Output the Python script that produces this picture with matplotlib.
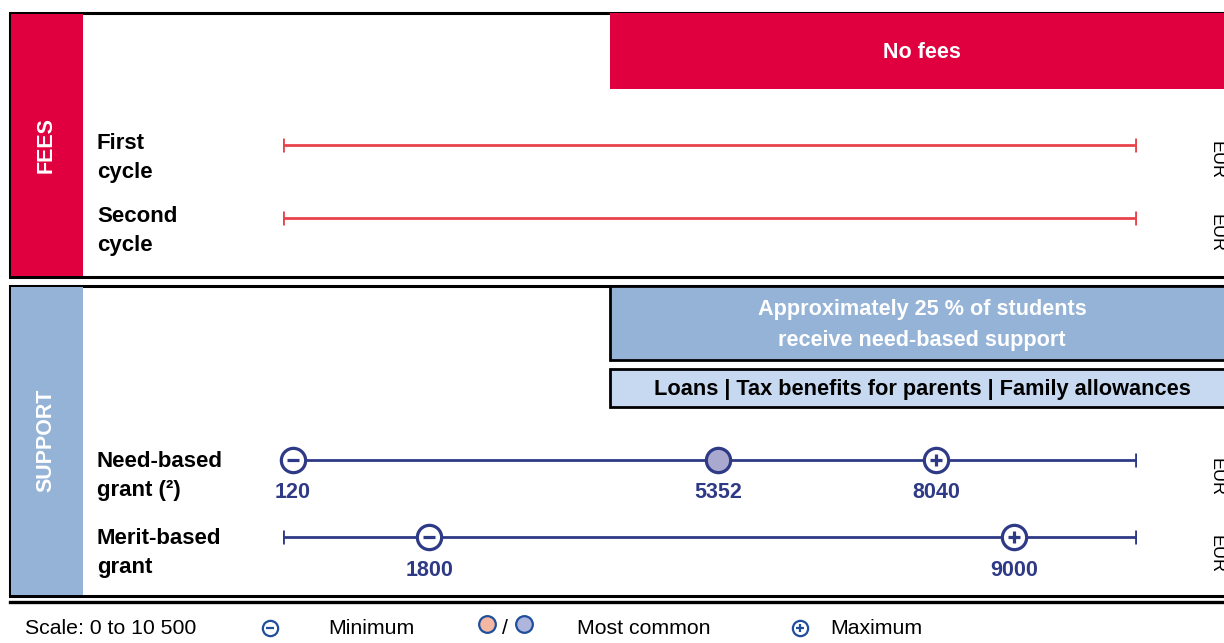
import matplotlib
matplotlib.use("Agg")
import matplotlib.pyplot as plt
from matplotlib.patches import Rectangle

# ---- data ----
scale_max = 10500
fee_labels = ["First\ncycle", "Second\ncycle"]
grant_labels = ["Need-based\ngrant (²)", "Merit-based\ngrant"]
grant_min = [120, 1800]
grant_common = [5352, None]
grant_max = [8040, 9000]
fee_note = "No fees"
support_note = "Approximately 25 % of students\nreceive need-based support"
other_support = "Loans | Tax benefits for parents | Family allowances"
legend_items = ["Minimum", "Most common", "Maximum"]

# ---- style ----
RED = "#E1003F"
FEE_LINE = "#E8434C"
BLUE = "#95B3D7"
LBLUE = "#C6D9F1"
NAVY = "#2F3A87"
LAV = "#A9A9D0"
FONT = "Liberation Sans"
W, H = 1224, 643

fig = plt.figure(figsize=(W / 100, H / 100), dpi=100)
lay = fig.add_axes([0, 0, 1, 1])
lay.set_xlim(0, W)
lay.set_ylim(H, 0)
lay.axis("off")

# data axis: 0..10500 mapped across the bar area
x0, x1 = 283, 1136
ax = fig.add_axes([x0 / W, 0, (x1 - x0) / W, 1])
ax.set_xlim(0, scale_max)
ax.set_ylim(H, 0)
ax.axis("off")
ax.patch.set_alpha(0)


def rect(x, y, w, h, fc, ec="none", lw=0, z=1):
    lay.add_patch(Rectangle((x, y), w, h, facecolor=fc, edgecolor=ec, lw=lw, zorder=z))


# ---- frames ----
rect(10, 13, 1230, 264, "white", "black", 2.2, 1)
rect(11, 14, 72, 262, RED, z=2)
rect(610, 13, 620, 76, RED, z=2)
lay.text(922, 53, fee_note, color="white", fontsize=15.5, fontweight="bold", family=FONT,
         ha="center", va="center", zorder=3)
lay.text(46, 145, "FEES", color="white", fontsize=15.5, fontweight="bold", family=FONT,
         rotation=90, ha="center", va="center", zorder=3)

rect(10, 286, 1230, 310, "white", "black", 2.2, 1)
rect(11, 287, 72, 308, BLUE, z=2)
rect(610, 286, 620, 74, BLUE, "black", 2, 2)
rect(610, 369, 620, 38, LBLUE, "black", 2, 2)
lay.text(922, 325, support_note, color="white", fontsize=15.6, fontweight="bold", family=FONT,
         ha="center", va="center", linespacing=1.6, zorder=3)
lay.text(922, 390, other_support, color="black", fontsize=15.7, fontweight="bold", family=FONT,
         ha="center", va="center", zorder=3)
lay.text(46, 440, "SUPPORT", color="white", fontsize=15.5, fontweight="bold", family=FONT,
         rotation=90, ha="center", va="center", zorder=3)

lay.plot([10, W], [602, 602], color="black", lw=2.4)

# ---- fee rows ----
fee_y = [145, 218]
for lab, y in zip(fee_labels, fee_y):
    lay.text(97, y + 13, lab, fontsize=16, fontweight="bold", family=FONT,
             ha="left", va="center", linespacing=1.5)
    ax.plot([0, scale_max], [y, y], color=FEE_LINE, lw=2, solid_capstyle="butt", zorder=3)
    ax.plot([0, scale_max], [y, y], ls="none", marker="|", ms=10, mew=2, color=FEE_LINE, zorder=3)
    lay.text(1216, y + 15, "EUR", fontsize=13, family=FONT, rotation=-90,
             ha="center", va="center")

# ---- grant rows ----
grant_y = [460, 537]
num_kw = dict(fontsize=15.5, fontweight="bold", color=NAVY, ha="center", va="center",
              family=FONT)
for lab, y, mn, cm, mx in zip(grant_labels, grant_y, grant_min, grant_common, grant_max):
    lay.text(97, y + 16, lab, fontsize=16, fontweight="bold", family=FONT,
             ha="left", va="center", linespacing=1.5)
    ax.plot([0, scale_max], [y, y], color=NAVY, lw=2, solid_capstyle="butt", zorder=3)
    ax.plot([0, scale_max], [y, y], ls="none", marker="|", ms=10, mew=2, color=NAVY, zorder=3)
    for v, sign in [(mn, "_"), (mx, "+")]:
        ax.plot(v, y, "o", ms=17.5, mfc="white", mec=NAVY, mew=2.3, zorder=4, clip_on=False)
        ax.plot(v, y, sign, ms=8, mew=2.3, color=NAVY, zorder=5, clip_on=False)
        ax.text(v, y + 33, f"{v}", **num_kw)
    if cm is not None:
        ax.plot(cm, y, "o", ms=17.5, mfc=LAV, mec=NAVY, mew=2.3, zorder=4, clip_on=False)
        ax.text(cm, y + 33, f"{cm}", **num_kw)
    lay.text(1216, y + 17, "EUR", fontsize=13, family=FONT, rotation=-90,
             ha="center", va="center")

# ---- legend ----
ly = 629
leg_kw = dict(fontsize=15.3, family=FONT, ha="left", va="center")
lay.text(25, ly, "Scale: 0 to 10 500", **leg_kw)
lay.plot(270, ly - 1, "o", ms=11, mfc="white", mec="#1F4E9C", mew=1.6)
lay.plot(270, ly - 1, "_", ms=5.5, mew=1.6, color="#1F4E9C")
lay.text(328, ly, legend_items[0], **leg_kw)
lay.plot(487, ly - 5, "o", ms=12, mfc="#F4B8A2", mec="#1F4E9C", mew=1.6)
lay.text(502, ly, "/", **leg_kw)
lay.plot(524, ly - 5, "o", ms=12, mfc="#AEB6DD", mec="#1F4E9C", mew=1.6)
lay.text(577, ly, legend_items[1], **leg_kw)
lay.plot(800, ly - 1, "o", ms=11, mfc="white", mec="#1F4E9C", mew=1.6)
lay.plot(800, ly - 1, "+", ms=6, mew=1.6, color="#1F4E9C")
lay.text(830, ly, legend_items[2], **leg_kw)

fig.savefig("out.png", dpi=100)
